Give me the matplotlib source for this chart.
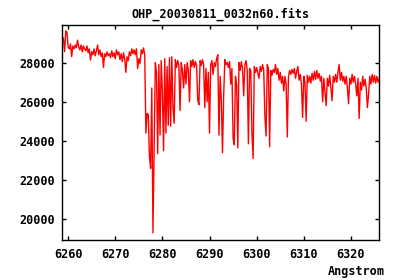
import numpy as np
import matplotlib
matplotlib.use('Agg')
import matplotlib.pyplot as plt

# Spectrum sampled every 0.25 Angstrom, starting at 6258.75
wave_start = 6258.75 # Angstrom
wave_step = 0.25     # Angstrom

flux = [
    # 6258.75 - 6263.50
    29300, 29250, 28560, 29620, 29550, 28800, 28700, 28950, 28300, 28850,
    28700, 28900, 28750, 29150, 28800, 28650, 28900, 28550, 28850, 28700,
    # 6263.75 - 6268.50
    28600, 28850, 28500, 28700, 28130, 28550, 28400, 28700, 28350, 28600,
    28900, 28400, 28650, 28300, 28500, 27750, 28450, 28300, 28550, 28350,
    # 6268.75 - 6273.50
    28450, 28250, 28600, 28300, 28500, 28200, 28650, 28400, 28550, 28150,
    28450, 28050, 28500, 28200, 27500, 28300, 28100, 28550, 28350, 28700,
    # 6273.75 - 6278.50
    28450, 28650, 28400, 28700, 27700, 28200, 27950, 28650, 28450, 28750,
    28400, 24400, 25400, 25350, 23200, 22600, 26700, 19300, 23800, 28000,
    # 6278.75 - 6283.50
    27500, 23350, 27900, 24300, 28100, 26500, 23500, 28200, 24400, 27800,
    24800, 28250, 24750, 28300, 25700, 24900, 28150, 27750, 28100, 27850,
    # 6283.75 - 6288.50
    25550, 28000, 27600, 26700, 27900, 26900, 28000, 27600, 26000, 28100,
    27800, 28150, 27750, 28050, 27850, 26100, 25850, 28100, 27850, 28150,
    # 6288.75 - 6293.50
    27900, 25700, 27700, 26000, 27500, 24400, 27900, 28100, 27400, 28000,
    27800, 28200, 28400, 24300, 27300, 26100, 23400, 26300, 28150, 27900,
    # 6293.75 - 6298.50
    28000, 27750, 28050, 26900, 27700, 24150, 23800, 27300, 26900, 23650,
    28000, 27600, 28050, 27700, 26300, 27900, 28100, 27600, 23850, 27700,
    # 6298.75 - 6303.50
    27600, 24400, 23100, 27800, 27500, 27750, 27450, 27200, 27800, 27550,
    27900, 27600, 25250, 24250, 27900, 27700, 23700, 27600, 27350, 27650,
    # 6303.75 - 6308.50
    27500, 27900, 27400, 27700, 27100, 27500, 26950, 27300, 26550, 27300,
    26900, 24200, 27300, 27600, 27400, 27650, 27450, 27700, 27200, 27550,
    # 6308.75 - 6313.50
    27800, 27100, 27400, 26900, 25200, 27300, 27000, 25000, 27350, 27000,
    27300, 26950, 27450, 27100, 27550, 27150, 27600, 27200, 27450, 27050,
    # 6313.75 - 6318.50
    27300, 26000, 27200, 26500, 25800, 27200, 26800, 27350, 26700, 26050,
    27300, 27000, 27400, 27000, 27500, 27900, 27100, 27500, 27050, 27300,
    # 6318.75 - 6323.50
    26900, 27300, 26700, 25900, 27200, 26900, 27400, 27000, 27300, 26900,
    26300, 27200, 25150, 27000, 26600, 27300, 26800, 27150, 26700, 25700,
    # 6323.75 - 6326.00
    26400, 27300, 26900, 27400, 27000, 27350, 26950, 27300, 27000, 27200,
]

x_ticks = [6260, 6270, 6280, 6290, 6300, 6310, 6320]
y_ticks = [20000, 22000, 24000, 26000, 28000]

title = 'OHP_20030811_0032n60.fits'

def main():
    flux_arr = np.array(flux, dtype=float)
    wave = wave_start + wave_step*np.arange(len(flux_arr))

    plt.rcParams['font.family'] = ['DejaVu Sans Mono']
    plt.rcParams['font.weight'] = 'bold'

    fig = plt.figure(figsize=(4.0, 2.8), dpi=100)
    ax = fig.add_axes([0.155, 0.1429, 0.793, 0.7678])

    ax.plot(wave, flux_arr, color='#ff0000', lw=1.0)

    ax.set_xlim(6258.7, 6326.0)
    ax.set_ylim(18940, 29920)
    ax.set_xticks(x_ticks)
    ax.set_yticks(y_ticks)
    ax.set_xticklabels([str(t) for t in x_ticks])
    ax.set_yticklabels([str(t) for t in y_ticks])
    ax.tick_params(direction='in', length=3, width=1, top=True, right=True,
                   labelsize=8.5, color='black')
    ax.tick_params(axis='x', pad=6)
    ax.tick_params(axis='y', pad=5)
    for s in ax.spines.values():
        s.set_linewidth(1)
        s.set_color('black')

    fig.text(0.551, 1 - 14.7/280, title, ha='center', va='center',
             fontsize=8.5, fontweight='bold')
    fig.text(385/400, 1 - 271/280, 'Angstrom', ha='right', va='center',
             fontsize=8.5, fontweight='bold')

    fig.savefig('out.png', dpi=100, facecolor='white')

if __name__ == '__main__':
    main()
